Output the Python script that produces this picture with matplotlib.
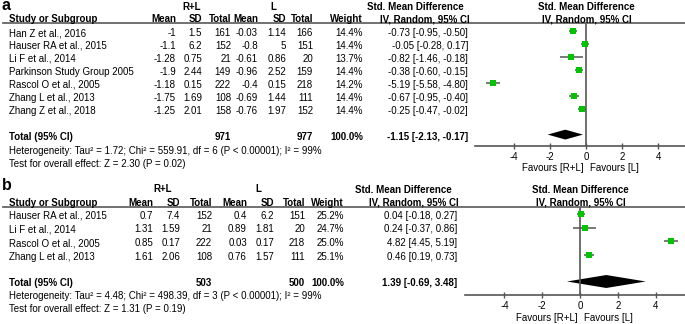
import numpy as np
import matplotlib
matplotlib.use('Agg')
import matplotlib.pyplot as plt
from matplotlib.lines import Line2D

plt.rcParams['font.family'] = ['Liberation Sans', 'DejaVu Sans']

# ---- panel a data ----
studies_a = ['Han Z et al., 2016', 'Hauser RA et al., 2015', 'Li F et al., 2014',
             'Parkinson Study Group 2005', 'Rascol O et al., 2005',
             'Zhang L et al., 2013', 'Zhang Z et al., 2018']
mean1_a = ['-1', '-1.1', '-1.28', '-1.9', '-1.18', '-1.75', '-1.25']
sd1_a = ['1.5', '6.2', '0.75', '2.44', '0.15', '1.69', '2.01']
n1_a = ['161', '152', '21', '149', '222', '108', '158']
mean2_a = ['-0.03', '-0.8', '-0.61', '-0.96', '-0.4', '-0.69', '-0.76']
sd2_a = ['1.14', '5', '0.86', '2.52', '0.15', '1.44', '1.97']
n2_a = ['166', '151', '20', '159', '218', '111', '152']
weight_a = ['14.4%', '14.4%', '13.7%', '14.4%', '14.2%', '14.4%', '14.4%']
smd_a = [-0.73, -0.05, -0.82, -0.38, -5.19, -0.67, -0.25]
lo_a = [-0.95, -0.28, -1.46, -0.60, -5.58, -0.95, -0.47]
hi_a = [-0.50, 0.17, -0.18, -0.15, -4.80, -0.40, -0.02]
total_a = ['971', '977', '100.0%']
pooled_a = (-1.15, -2.13, -0.17)
het_a = 'Heterogeneity: Tau\u00b2 = 1.72; Chi\u00b2 = 559.91, df = 6 (P < 0.00001); I\u00b2 = 99%'
test_a = 'Test for overall effect: Z = 2.30 (P = 0.02)'

# ---- panel b data ----
studies_b = ['Hauser RA et al., 2015', 'Li F et al., 2014',
             'Rascol O et al., 2005', 'Zhang L et al., 2013']
mean1_b = ['0.7', '1.31', '0.85', '1.61']
sd1_b = ['7.4', '1.59', '0.17', '2.06']
n1_b = ['152', '21', '222', '108']
mean2_b = ['0.4', '0.89', '0.03', '0.76']
sd2_b = ['6.2', '1.81', '0.17', '1.57']
n2_b = ['151', '20', '218', '111']
weight_b = ['25.2%', '24.7%', '25.0%', '25.1%']
smd_b = [0.04, 0.24, 4.82, 0.46]
lo_b = [-0.18, -0.37, 4.45, 0.19]
hi_b = [0.27, 0.86, 5.19, 0.73]
total_b = ['503', '500', '100.0%']
pooled_b = (1.39, -0.69, 3.48)
het_b = 'Heterogeneity: Tau\u00b2 = 4.48; Chi\u00b2 = 498.39, df = 3 (P < 0.00001); I\u00b2 = 99%'
test_b = 'Test for overall effect: Z = 1.31 (P = 0.19)'

ticks = [-4, -2, 0, 2, 4]

W, H = 685, 324
fig = plt.figure(figsize=(W / 100, H / 100), dpi=100)
FS = 7.05
GREEN = '#00c400'
GREY = '#555555'


def T(x, y, s, **kw):
    kw.setdefault('fontsize', FS)
    kw.setdefault('va', 'center')
    fig.text(x / W, 1 - y / H, s, **kw)


def panel(label, label_base, y0, dy, ntot, cols, studies, data, weights, smd, lo, hi,
          totals, pooled, het, test, ax_left, zero_px, ppu, sq, dh, axis_px,
          hdr, fav_y, foot):
    # cols: x positions (right edges) for mean1, sd1, n1, mean2, sd2, n2, weight, ci
    T(2, label_base, label, fontsize=11.5, fontweight='bold', ha='left', va='baseline')
    T(hdr['rl'], hdr['grp_y'], 'R+L', fontweight='bold', ha='center')
    T(hdr['l'], hdr['grp_y'], 'L', fontweight='bold', ha='center')
    hy = hdr['hy']
    T(9, hy, 'Study or Subgroup', fontweight='bold', ha='left')
    for x, s in zip(cols[:7], ['Mean', 'SD', 'Total', 'Mean', 'SD', 'Total', 'Weight']):
        T(x, hy, s, fontweight='bold', ha='right')
    T(hdr['smd_c'], hy - 12.5, 'Std. Mean Difference', fontweight='bold', ha='center')
    T(hdr['iv_c'], hy, 'IV, Random, 95% CI', fontweight='bold', ha='center')
    T(zero_px, hy - 12.5, 'Std. Mean Difference', fontweight='bold', ha='center')
    T(zero_px + 1, hy, 'IV, Random, 95% CI', fontweight='bold', ha='center')
    line_y = hdr['line']
    fig.add_artist(Line2D([3 / W, 1], [1 - line_y / H] * 2, color='#666666', lw=1.3))

    off = 2.0
    for i, name in enumerate(studies):
        y = y0 + dy * i + off
        T(9, y, name, ha='left')
        for x, col in zip(cols[:6], data):
            T(x, y, col[i], ha='right')
        T(cols[6], y, weights[i], ha='right')
        T(cols[7], y, '%.2f [%.2f, %.2f]' % (smd[i], lo[i], hi[i]), ha='right')
    y = y0 + dy * ntot + off
    T(9, y, 'Total (95% CI)', fontweight='bold', ha='left')
    T(cols[2], y, totals[0], fontweight='bold', ha='right')
    T(cols[5], y, totals[1], fontweight='bold', ha='right')
    T(cols[6], y, totals[2], fontweight='bold', ha='right')
    T(cols[7], y, '%.2f [%.2f, %.2f]' % pooled, fontweight='bold', ha='right')
    T(9, y + foot[0], het, ha='left')
    T(9, y + foot[1], test, ha='left')

    # forest axes
    ax = fig.add_axes([ax_left / W, 1 - axis_px / H, (W - ax_left) / W,
                       (axis_px - line_y) / H])
    xmin = -(zero_px - ax_left) / ppu
    xmax = (W - zero_px) / ppu
    ax.set_xlim(xmin, xmax)
    ax.set_ylim((axis_px - y0) / dy, (line_y - y0) / dy)
    ax.patch.set_alpha(0)
    for s in ['top', 'right', 'left']:
        ax.spines[s].set_visible(False)
    ax.spines['bottom'].set_color(GREY)
    ax.spines['bottom'].set_linewidth(1.2)
    ax.set_yticks([])
    ax.set_xticks(ticks)
    ax.set_xticklabels([str(t) for t in ticks])
    ax.tick_params(axis='x', direction='inout', length=5, width=1, color=GREY,
                   labelsize=FS, pad=1.5)
    ax.axvline(0, color=GREY, lw=1.2)
    rows = np.arange(len(smd))
    ax.errorbar(smd, rows, xerr=[np.array(smd) - np.array(lo), np.array(hi) - np.array(smd)],
                fmt='none', ecolor=GREY, elinewidth=1.1, capsize=0)
    ax.plot(smd, rows, 's', color=GREEN, markersize=sq, markeredgewidth=0)
    est, plo, phi = pooled
    ax.fill([plo, est, phi, est], [ntot, ntot - dh, ntot, ntot + dh], color='black', lw=0)
    ax.text(-0.15, fav_y, 'Favours [R+L]', transform=ax.get_xaxis_transform(),
            ha='right', va='center', fontsize=FS)
    ax.text(0.2, fav_y, 'Favours [L]', transform=ax.get_xaxis_transform(),
            ha='left', va='center', fontsize=FS)
    return ax


panel('a', 10.5, 31, 12.95, 8,
      [176, 202, 231, 258, 286, 313, 363, 468],
      studies_a, [mean1_a, sd1_a, n1_a, mean2_a, sd2_a, n2_a], weight_a,
      smd_a, lo_a, hi_a, total_a, pooled_a, het_a, test_a,
      ax_left=475, zero_px=586, ppu=18.0, sq=4.2, dh=0.38, axis_px=146,
      hdr=dict(rl=192, l=273, grp_y=7.5, hy=19.5, smd_c=415, iv_c=425, line=23.3),
      fav_y=-0.18, foot=(14, 27.5))

panel('b', 190, 214, 13.5, 5,
      [153, 180, 212, 247, 274, 305, 344, 457],
      studies_b, [mean1_b, sd1_b, n1_b, mean2_b, sd2_b, n2_b], weight_b,
      smd_b, lo_b, hi_b, total_b, pooled_b, het_b, test_b,
      ax_left=465, zero_px=580, ppu=18.9, sq=5.0, dh=0.48, axis_px=295,
      hdr=dict(rl=163, l=258, grp_y=189.5, hy=202.5, smd_c=403, iv_c=414, line=207),
      fav_y=-0.26, foot=(12.5, 25.5))

fig.savefig('out.png', dpi=100)
